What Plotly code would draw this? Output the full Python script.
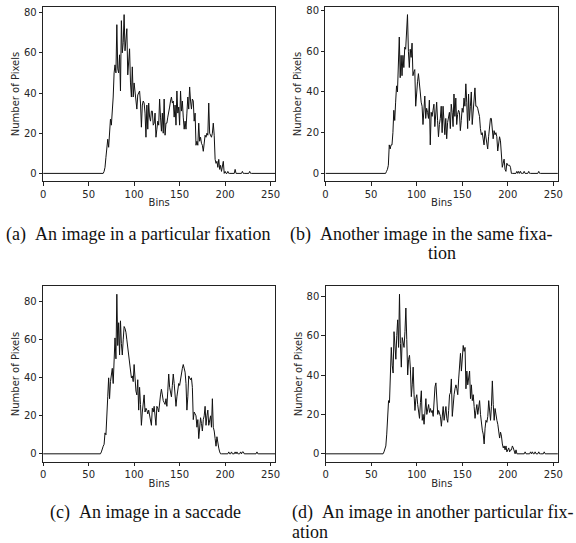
import plotly.graph_objects as go

bins = list(range(256))

# Panel (a): nonzero region starts at bin 66
a_start = 66
a_vals = [0, 1, 3, 8, 13, 17, 13, 20, 27, 24, 30, 38, 50, 54, 50, 74, 52, 50, 59, 41,
          76, 60, 65, 79, 61, 66, 72, 49, 58, 62, 45, 38, 53, 38,
          45, 40, 38, 32, 39, 40, 41, 35, 23, 34, 36, 35, 30, 18, 34, 22, 35, 28, 26, 31,
          31, 24, 25, 30, 18, 22, 26, 24, 37, 28, 21, 30, 20, 37, 19, 25, 25, 28, 30, 33,
          36, 38, 35, 36, 28, 34, 24, 41, 30, 33, 24, 41, 31, 36, 28, 22, 26, 22, 30, 38,
          32, 43, 36, 32, 37, 36, 26, 30, 14, 16, 14, 25, 16, 18, 15, 14, 11, 15, 19, 18,
          20, 19, 35, 20, 19, 18, 20, 25, 19, 7, 5, 6, 3, 7, 2, 4, 1, 5, 6, 0,
          1, 0, 0, 1, 0, 0, 0, 0, 0, 0, 0, 2, 0, 0, 0, 0, 0, 0, 0, 1, 0, 0, 0, 0, 0, 0, 0, 1, 0]

b_start = 66
b_vals = [0, 1, 2, 4, 14, 12, 14, 14, 20, 31, 26, 35, 43, 40, 50, 67, 47, 58, 48, 58,
          52, 62, 61, 68, 78, 60, 52, 61, 57, 64, 48, 50, 51, 33,
          41, 45, 49, 42, 40, 35, 33, 24, 30, 38, 27, 32, 30, 27, 36, 14, 30, 28, 31, 34,
          23, 30, 35, 26, 18, 24, 27, 33, 20, 33, 25, 19, 27, 17, 25, 29, 30, 22, 34, 30,
          23, 39, 28, 37, 24, 29, 31, 30, 21, 26, 32, 30, 37, 33, 44, 35, 22, 39, 26, 33,
          40, 24, 31, 37, 42, 33, 33, 32, 30, 28, 22, 19, 20, 17, 14, 21, 17, 16, 12, 18,
          25, 27, 27, 22, 17, 21, 19, 20, 18, 11, 14, 18, 16, 9, 3, 5, 7, 2, 1, 5,
          4, 4, 4, 3, 0, 0, 0, 0, 0, 0, 1, 0, 1, 0, 1, 0, 0, 0, 1, 0, 0, 0, 0, 1,
          0, 0, 0, 0, 0, 0, 0, 0, 0, 0, 1, 0]

c_start = 63
c_vals = [0, 1, 3, 4, 5, 11, 10, 25, 30, 40, 29, 38, 42, 45, 37, 55, 61, 50, 84, 57,
          69, 52, 70, 58, 52, 60, 67, 66, 64, 60, 56, 50, 45, 41, 40, 41, 38,
          47, 39, 33, 31, 39, 23, 35, 26, 15, 22, 27, 31, 22, 24, 23, 21, 23, 20, 19, 15,
          24, 22, 25, 20, 15, 25, 24, 22, 28, 31, 34, 30, 28, 27, 26, 29, 25, 33, 42, 35,
          31, 30, 36, 42, 37, 31, 25, 30, 33, 37, 36, 40, 42, 45, 47, 45, 43, 37, 23, 30,
          41, 40, 39, 40, 35, 18, 22, 21, 20, 14, 18, 8, 15, 19, 16, 12, 18, 20, 25, 15,
          20, 23, 15, 17, 20, 14, 29, 14, 12, 8, 4, 9, 5, 3, 1, 0, 0,
          0, 0, 0, 0, 0, 0, 0, 1, 0, 0, 1, 0, 0, 0, 1, 0, 1, 0, 0, 0, 1, 0, 1, 1,
          0, 0, 0, 0, 0, 0, 0, 0, 0, 0, 0, 0, 0, 0, 1, 0]

d_start = 63
d_vals = [0, 1, 3, 4, 10, 20, 27, 26, 48, 54, 45, 41, 62, 55, 48, 60, 68, 54, 81, 56,
          44, 59, 57, 54, 62, 74, 58, 40, 48, 50, 43, 29, 35, 44, 30, 22, 28,
          30, 25, 21, 18, 26, 32, 17, 20, 15, 22, 28, 20, 24, 25, 21, 23, 21, 22, 19, 28,
          34, 36, 30, 20, 22, 20, 19, 14, 18, 24, 17, 20, 24, 18, 16, 22, 30, 31, 38, 19,
          28, 30, 33, 35, 33, 30, 38, 45, 51, 42, 48, 55, 52, 54, 33, 42, 35, 40, 42, 28,
          35, 27, 30, 24, 18, 22, 25, 20, 24, 27, 20, 14, 12, 10, 5, 13, 17, 16, 19, 27,
          20, 17, 24, 37, 25, 17, 23, 19, 17, 15, 12, 8, 11, 9, 5, 3, 4, 2, 4, 1,
          2, 3, 1, 2, 2, 4, 3, 1, 0, 2, 0, 0, 0, 0, 0, 0, 0, 0, 0, 1,
          0, 0, 0, 0, 0, 1, 0, 1, 0, 0, 1, 0, 0, 0, 1, 0, 0, 0, 0, 0, 1, 0]


def full(start, vals):
    v = [0] * start + list(vals)
    v = v[:256]
    return v + [0] * (256 - len(v))


series = [full(a_start, a_vals), full(b_start, b_vals), full(c_start, c_vals), full(d_start, d_vals)]
y_max = [79, 78, 84, 81]

captions = ["(a)\u2002An image in a particular fixation",
            "(b)\u2002Another image in the same fixa-",
            "tion",
            "(c)\u2002An image in a saccade",
            "(d)\u2002An image in another particular fix-",
            "ation"]

W, H = 576, 543
# pixel boxes: left, right, top, bottom
boxes = [(40.7, 276.0, 4.7, 180.0), (327.0, 562.7, 4.7, 180.0),
         (40.7, 276.0, 285.3, 461.5), (327.3, 562.7, 285.3, 461.5)]

fig = go.Figure()
lab_font = dict(family="DejaVu Sans", size=10, color="#262626")
for i, (vals, box) in enumerate(zip(series, boxes)):
    n = i + 1
    xa = "x" if n == 1 else f"x{n}"
    ya = "y" if n == 1 else f"y{n}"
    fig.add_trace(go.Scatter(x=bins, y=vals, mode="lines",
                             line=dict(color="#111111", width=1.0),
                             xaxis=xa, yaxis=ya, showlegend=False, hoverinfo="skip"))
    l, r, t, b = box
    m = y_max[i]
    common = dict(showline=True, linecolor="#222222", linewidth=0.9, mirror=True,
                  ticks="outside", ticklen=3.5, tickwidth=0.8, tickcolor="#222222",
                  showgrid=False, zeroline=False, tickfont=lab_font)
    fig.layout[f"xaxis{'' if n == 1 else n}"] = dict(
        domain=[l / W, r / W], range=[0, 255], tickvals=[0, 50, 100, 150, 200, 250],
        anchor=ya, title=dict(text="Bins", font=lab_font, standoff=0),
        **common)
    fig.layout[f"yaxis{'' if n == 1 else n}"] = dict(
        domain=[1 - b / H, 1 - t / H], range=[-0.05 * m, 1.05 * m], tickvals=[0, 20, 40, 60, 80],
        anchor=xa, title=dict(text="Number of Pixels", font=lab_font, standoff=2),
        **common)

cap_font = dict(family="Liberation Serif", size=18, color="#111111")
cap_pos = [(1, 233, "left"), (289, 233, "left"), (445, 252, "center"),
           (145, 512, "center"), (291, 512, "left"), (291, 532, "left")]
for text, (x, y, al) in zip(captions, cap_pos):
    fig.add_annotation(text=text, x=x / W, y=1 - y / H, xref="paper", yref="paper",
                       xanchor=al, yanchor="middle", showarrow=False, font=cap_font)

fig.update_layout(width=W, height=H, margin=dict(l=0, r=0, t=0, b=0),
                  paper_bgcolor="white", plot_bgcolor="white")
fig.write_html("out.html")
